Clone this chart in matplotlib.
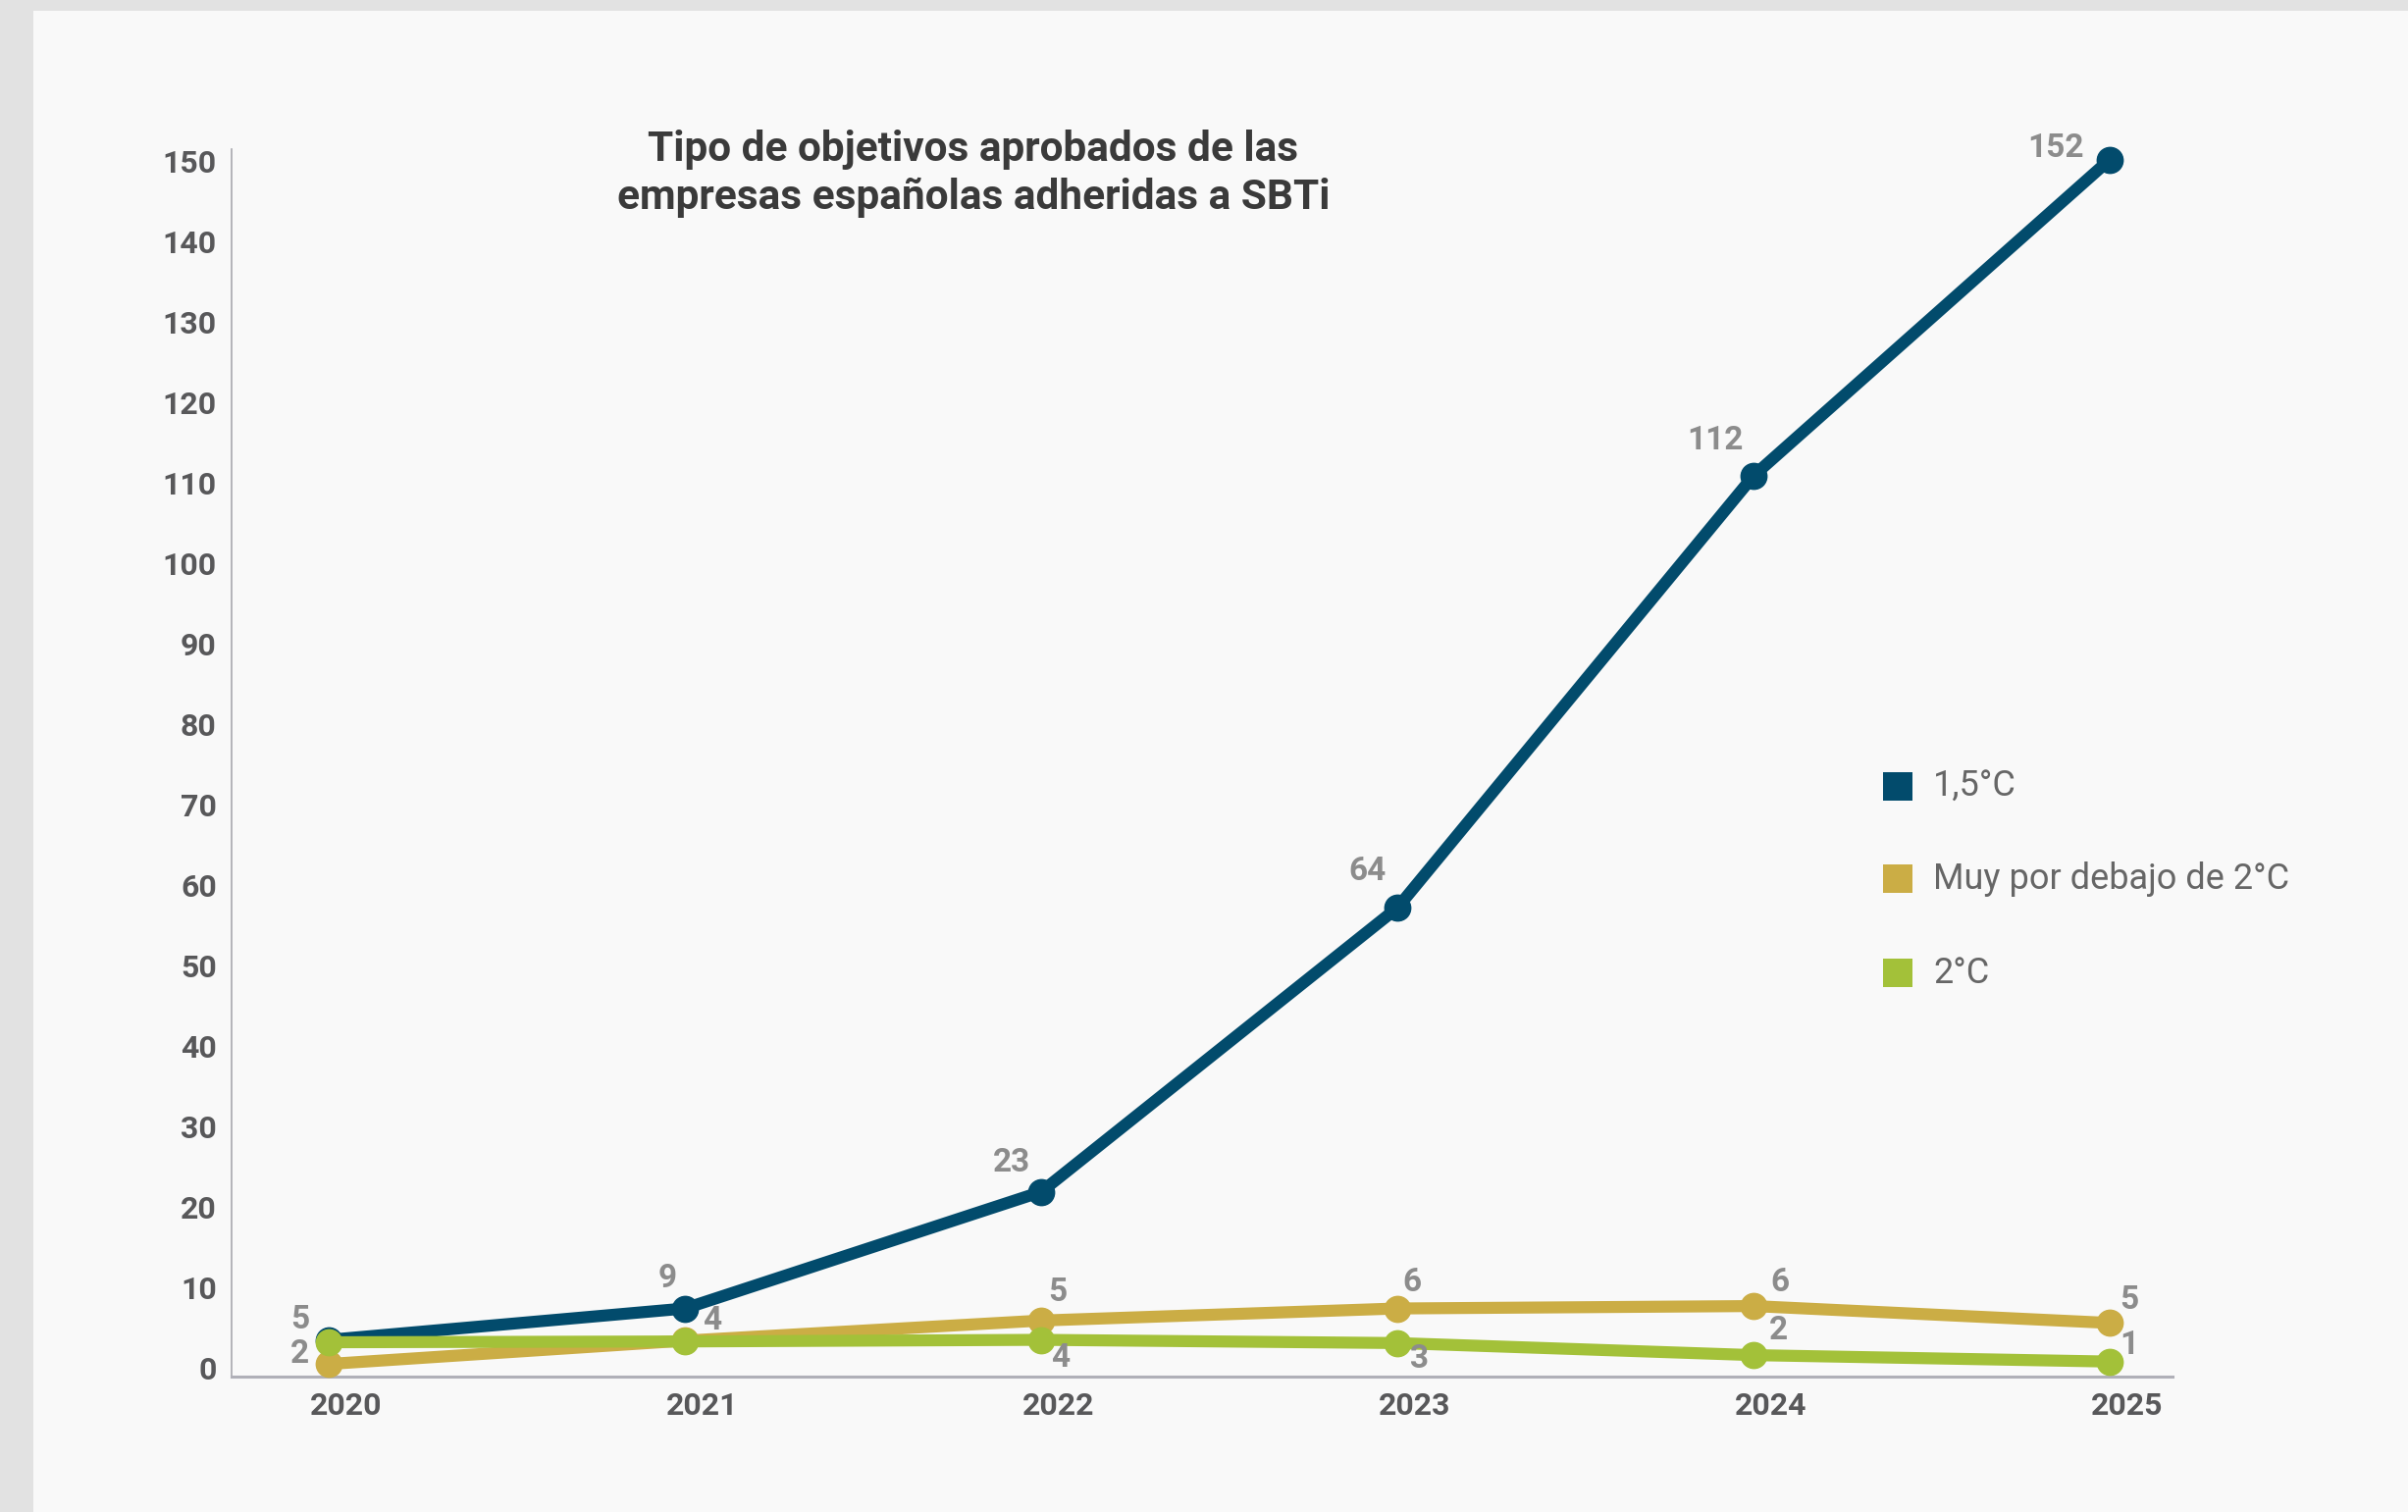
import matplotlib
matplotlib.use("Agg")
import matplotlib.pyplot as plt
from matplotlib.patches import Rectangle
from matplotlib.transforms import ScaledTranslation

# ---------------- data ----------------
years = [2020, 2021, 2022, 2023, 2024, 2025]
series_names = ["1,5°C", "Muy por debajo de 2°C", "2°C"]
vals_15 = [3.8, 7.7, 22.2, 57.5, 111.2, 150.5]
vals_below2 = [0.8, 3.7, 6.2, 7.7, 8.0, 5.9]
vals_2 = [3.5, 3.6, 3.8, 3.4, 1.9, 1.1]
labels_15 = ["5", "9", "23", "64", "112", "152"]
labels_below2 = ["2", "4", "5", "6", "6", "5"]
labels_2 = [None, None, "4", "3", "2", "1"]
yticks = list(range(0, 151, 10))
title = "Tipo de objetivos aprobados de las\nempresas españolas adheridas a SBTi"

# ---------------- style ----------------
colors = ["#024b6c", "#cbad45", "#a3c139"]
off_15 = [(-21, 15), (-13, 22), (-22, 21), (-22, 27), (-28, 26), (-40, 8)]
off_below2 = [(-21, 7), (20, 15), (12, 21), (11, 19), (19, 17), (14, 17)]
off_2 = [None, None, (14, -13), (16, -12), (18, 18), (14, 12)]

plt.rcParams['font.family'] = ['Roboto', 'DejaVu Sans']

W, H = 2454, 1541
fig = plt.figure(figsize=(W / 100, H / 100), dpi=100)
fig.patch.set_facecolor("#e2e2e2")
fig.patches.append(Rectangle((34 / W, 0), 1 - 34 / W, 1 - 11 / H,
                             transform=fig.transFigure, facecolor="#f9f9f9",
                             edgecolor="none", zorder=-10))

left_px, right_px, top_px, bot_px = 236, 2214, 151.7, 1403
ax = fig.add_axes([left_px / W, 1 - bot_px / H, (right_px - left_px) / W, (bot_px - top_px) / H])
ax.set_facecolor("none")

ax.set_xlim(2019.727, 2025.176)
ax.set_ylim(-0.768, 151.83)

for vals, col, labs, offs in [(vals_15, colors[0], labels_15, off_15),
                              (vals_below2, colors[1], labels_below2, off_below2),
                              (vals_2, colors[2], labels_2, off_2)]:
    ax.plot(years, vals, color=col, lw=8.8, marker="o", markersize=19,
            solid_capstyle="round", solid_joinstyle="round", clip_on=False, zorder=3)
    for x, y, t, o in zip(years, vals, labs, offs):
        if t is None:
            continue
        ax.annotate(t, (x, y), xytext=o, textcoords="offset points",
                    ha="center", va="center", fontsize=24, fontweight="bold",
                    color="#8c8c8c", zorder=5, annotation_clip=False)

for s in ["top", "right"]:
    ax.spines[s].set_visible(False)
ax.spines["left"].set_color("#a8a8ae")
ax.spines["left"].set_linewidth(1.2)
ax.spines["bottom"].set_color("#b0b0b8")
ax.spines["bottom"].set_linewidth(2.2)

ax.set_yticks(yticks)
ax.set_xticks(years)
ax.tick_params(axis="both", length=0, labelsize=23, labelcolor="#58585a")
ax.tick_params(axis="y", pad=11)
ax.tick_params(axis="x", pad=11)
for lbl in ax.get_yticklabels() + ax.get_xticklabels():
    lbl.set_fontweight("bold")
shift = ScaledTranslation(18 / 100, 0, fig.dpi_scale_trans)
for lbl in ax.get_xticklabels():
    lbl.set_transform(lbl.get_transform() + shift)
yshift = ScaledTranslation(0, 3 / 100, fig.dpi_scale_trans)
for lbl in ax.get_yticklabels():
    lbl.set_transform(lbl.get_transform() + yshift)

fig.text(992 / W, 1 - 177 / H, title, ha="center", va="center", fontsize=30.5,
         fontweight="bold", color="#3a3a3a", linespacing=1.26)

# legend
leg_y = [801.5, 895.5, 991.5]
for name, col, yy in zip(series_names, colors, leg_y):
    fig.patches.append(Rectangle((1919 / W, 1 - (yy + 14.5) / H), 30 / W, 29 / H,
                                 transform=fig.transFigure, facecolor=col,
                                 edgecolor="none"))
    fig.text(1970 / W, 1 - yy / H, name, ha="left", va="center", fontsize=26,
             color="#666666")

fig.savefig("out.png", dpi=100, facecolor=fig.get_facecolor())
